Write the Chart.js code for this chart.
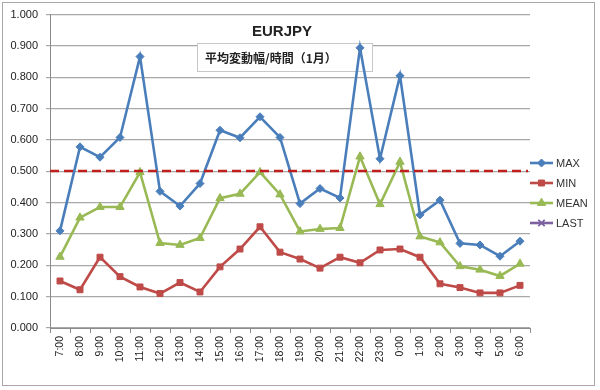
<!DOCTYPE html>
<html><head><meta charset="utf-8">
<script src="https://cdn.jsdelivr.net/npm/chart.js@4/dist/chart.umd.min.js"></script>
<style>
html,body{margin:0;padding:0;background:#fff;}
#wrap{position:relative;width:600px;height:390px;}
#frame{position:absolute;left:2px;top:2px;width:593px;height:384px;border:1px solid #a8a8a8;box-sizing:border-box;pointer-events:none;}
canvas{position:absolute;left:0;top:0;}
</style></head>
<body>
<div id="wrap"><canvas id="c" width="600" height="390"></canvas><div id="frame"></div></div>
<script>
const categories = ["7:00","8:00","9:00","10:00","11:00","12:00","13:00","14:00","15:00","16:00","17:00","18:00","19:00","20:00","21:00","22:00","23:00","0:00","1:00","2:00","3:00","4:00","5:00","6:00"];
const maxValues  = [0.310,0.578,0.545,0.608,0.866,0.436,0.389,0.461,0.631,0.607,0.674,0.608,0.397,0.445,0.415,0.894,0.540,0.805,0.361,0.408,0.270,0.265,0.229,0.277];
const minValues  = [0.150,0.122,0.226,0.164,0.131,0.110,0.145,0.115,0.195,0.252,0.323,0.242,0.220,0.191,0.226,0.208,0.249,0.252,0.226,0.141,0.129,0.112,0.112,0.136];
const meanValues = [0.227,0.352,0.386,0.386,0.497,0.271,0.265,0.287,0.414,0.428,0.497,0.426,0.308,0.316,0.319,0.547,0.395,0.530,0.292,0.273,0.197,0.186,0.166,0.205];
const lastValues = [];
const seriesNames = ["MAX","MIN","MEAN","LAST"];
const threshold = 0.5;
const yTicks = [0,0.1,0.2,0.3,0.4,0.5,0.6,0.7,0.8,0.9,1.0];
const chartTitle = "EURJPY";
const chartSubtitle = "平均変動幅/時間（1月）";

const LATIN = '"Liberation Sans", Arial, sans-serif';
const CJK = '"Noto Sans CJK JP", "Noto Sans", sans-serif';

function ds(label, data, color, style, radius){
  return {label, data, borderColor:color, backgroundColor:color, pointBackgroundColor:color,
    pointBorderColor:color, pointStyle:style, pointRadius:radius, pointHoverRadius:radius,
    borderWidth:2.6, pointBorderWidth:1, tension:0, fill:false};
}

const overlay = {
  id:'overlay',
  beforeDatasetsDraw(chart){
    const ctx = chart.ctx;
    ctx.save();
    ctx.fillStyle = '#222'; ctx.textAlign='center'; ctx.textBaseline='middle';
    ctx.font = 'bold 15px ' + LATIN;
    ctx.fillText(chartTitle, 282, 32);
    ctx.fillStyle = '#fff'; ctx.fillRect(197.5,43.5,175,28);
    ctx.strokeStyle = '#c8c8c8'; ctx.lineWidth = 1; ctx.strokeRect(197.5,43.5,175,28);
    ctx.fillStyle = '#222'; ctx.font = 'bold 12px ' + CJK; ctx.textAlign='left';
    ctx.fillText(chartSubtitle, 205, 58);
    ctx.restore();
  },
  afterDatasetsDraw(chart){
    const ctx = chart.ctx, a = chart.chartArea, y = chart.scales.y;
    ctx.save();
    ctx.strokeStyle = '#c0201d'; ctx.lineWidth = 2.6; ctx.setLineDash([9,5]);
    const ty = Math.round(y.getPixelForValue(threshold));
    ctx.beginPath(); ctx.moveTo(a.left, ty); ctx.lineTo(a.right-2, ty); ctx.stroke();
    ctx.restore();
  },
  afterDraw(chart){
    const ctx = chart.ctx;
    ctx.save();
    chart.data.datasets.forEach((d,i)=>{
      const ly = 163 + 20*i;
      ctx.strokeStyle = d.borderColor; ctx.lineWidth = 2.6; ctx.setLineDash([]);
      ctx.beginPath(); ctx.moveTo(530, ly); ctx.lineTo(553, ly); ctx.stroke();
      ctx.fillStyle = d.pointBackgroundColor; ctx.strokeStyle = d.pointBorderColor; ctx.lineWidth = d.pointStyle==='crossRot'?1.8:1;
      Chart.helpers.drawPoint(ctx, {pointStyle:d.pointStyle, radius:d.pointRadius, rotation:0, borderWidth:1}, 541.5, ly);
      ctx.fillStyle = '#333'; ctx.font = '11px ' + LATIN; ctx.textAlign='left'; ctx.textBaseline='middle';
      ctx.fillText(d.label, 556, ly+0.5);
    });
    ctx.restore();
  }
};

new Chart(document.getElementById('c'), {
  type:'line',
  data:{
    labels: categories,
    datasets:[
      ds(seriesNames[0], maxValues, '#4a7ebb', 'rectRot', 4),
      ds(seriesNames[1], minValues, '#be4b48', 'rect', 4.2),
      ds(seriesNames[2], meanValues, '#98b954', 'triangle', 4.8),
      Object.assign(ds(seriesNames[3], lastValues, '#7d60a0', 'crossRot', 4.5), {pointBorderWidth:1.8})
    ]
  },
  options:{
    responsive:false, animation:false,
    devicePixelRatio:1,
    layout:{padding:{left:0,right:70,top:12,bottom:0}},
    plugins:{legend:{display:false}, tooltip:{enabled:false}, title:{display:false}},
    scales:{
      x:{
        offset:true,
        grid:{offset:true, drawOnChartArea:false, drawTicks:true, tickLength:5, color:'#8c8c8c'},
        border:{color:'#8c8c8c'},
        ticks:{autoSkip:false, minRotation:90, maxRotation:90, padding:3, color:'#222', font:{family:LATIN, size:10.5}},
        afterFit(s){ s.height = 62; }
      },
      y:{
        min:0, max:1,
        afterBuildTicks(s){ s.ticks = yTicks.map(v=>({value:v})); },
        grid:{color:'#a8a8a8', lineWidth:1.2, tickLength:4, drawTicks:true},
        border:{color:'#8c8c8c'},
        ticks:{padding:8, color:'#222', font:{family:LATIN, size:11}, callback:v=>Number(v).toFixed(3)},
        afterFit(s){ s.width = 50; }
      }
    }
  },
  plugins:[overlay]
});
</script>
</body></html>
